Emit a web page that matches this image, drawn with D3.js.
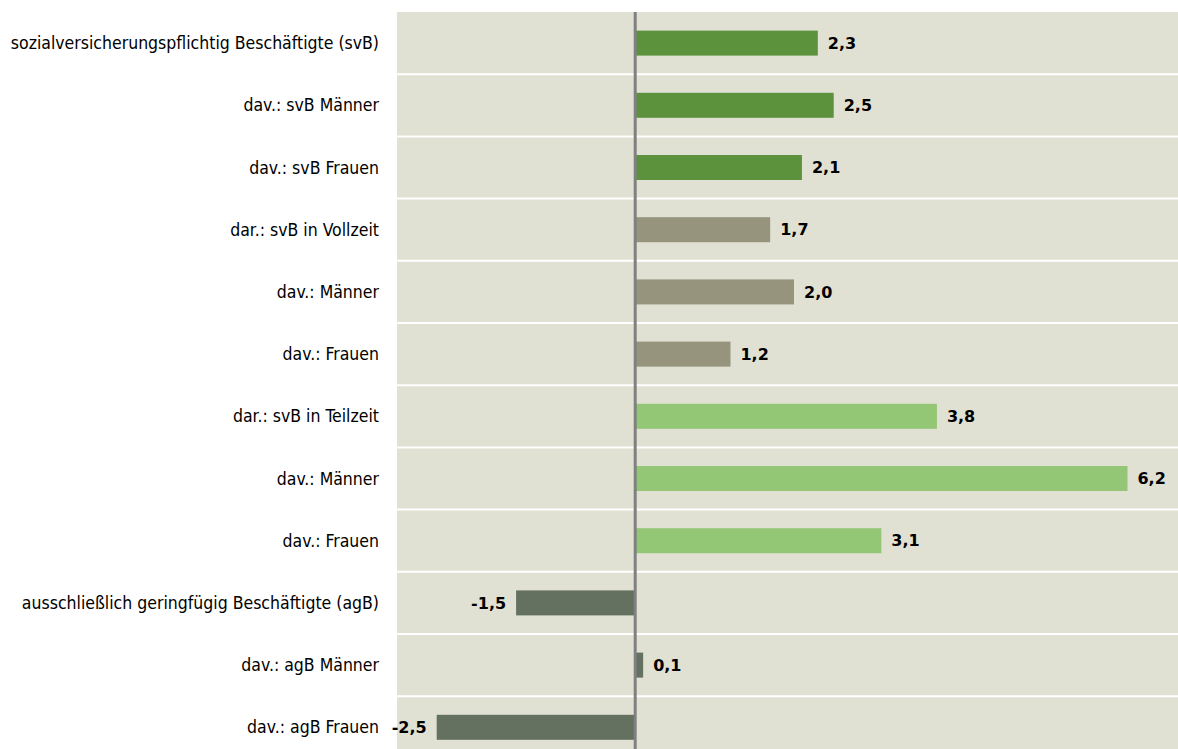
<!DOCTYPE html>
<html>
<head>
<meta charset="utf-8">
<style>
  body { margin: 0; background: #fff; }
  .cat { font-family: Tahoma, "DejaVu Sans Condensed", "Liberation Sans", sans-serif; font-size: 17.5px; fill: #000; }
  .val { font-family: "DejaVu Sans", Verdana, sans-serif; font-size: 16px; font-weight: bold; fill: #000; }
</style>
</head>
<body>
<svg width="1178" height="749"></svg>
<script src="https://cdnjs.cloudflare.com/ajax/libs/d3/7.8.5/d3.min.js"></script>
<script>

// categories, top to bottom
var categories = [
  "sozialversicherungspflichtig Beschäftigte (svB)",
  "dav.: svB Männer",
  "dav.: svB Frauen",
  "dar.: svB in Vollzeit",
  "dav.: Männer",
  "dav.: Frauen",
  "dar.: svB in Teilzeit",
  "dav.: Männer",
  "dav.: Frauen",
  "ausschließlich geringfügig Beschäftigte (agB)",
  "dav.: agB Männer",
  "dav.: agB Frauen"
];

// change in percent
var values = [2.3, 2.5, 2.1, 1.7, 2.0, 1.2, 3.8, 6.2, 3.1, -1.5, 0.1, -2.5];

// group of each bar (drives colour)
var groups = ["svB", "svB", "svB", "vz", "vz", "vz", "tz", "tz", "tz", "agB", "agB", "agB"];

var data = categories.map(function(c, i) {
  return { key: i, cat: c, value: values[i], group: groups[i] };
});

var svg = d3.select("svg"),
    plotLeft = 397, plotRight = 1178,
    plotTop = 12, rowH = 62.2,
    plotBottom = plotTop + rowH * categories.length;

var x = d3.scaleLinear()
    .domain([-3, 7])
    .range([plotLeft, plotLeft + 10 * 79.4]);

var y = d3.scaleBand()
    .domain(data.map(function(d) { return d.key; }))
    .range([plotTop, plotBottom])
    .padding(0);

var color = d3.scaleOrdinal()
    .domain(["svB", "vz", "tz", "agB"])
    .range(["#5c923c", "#96947c", "#93c675", "#647060"]);

var fmt = function(v) { return d3.format(".1f")(v).replace("\u2212", "-").replace(".", ","); };

svg.append("defs").append("clipPath").attr("id", "plot")
  .append("rect")
    .attr("x", plotLeft).attr("y", plotTop)
    .attr("width", plotRight - plotLeft).attr("height", plotBottom - plotTop);

var plot = svg.append("g").attr("clip-path", "url(#plot)");

// background
plot.append("rect")
    .attr("x", plotLeft).attr("y", plotTop)
    .attr("width", plotRight - plotLeft).attr("height", plotBottom - plotTop)
    .attr("fill", "#e0e1d3");

// row separators
plot.selectAll(".sep")
    .data(data.slice(1))
    .enter().append("line")
      .attr("class", "sep")
      .attr("x1", plotLeft).attr("x2", plotRight)
      .attr("y1", function(d) { return y(d.key); })
      .attr("y2", function(d) { return y(d.key); })
      .attr("stroke", "#fff")
      .attr("stroke-width", 2);

var barH = 25;

plot.selectAll(".bar")
    .data(data)
    .enter().append("rect")
      .attr("class", "bar")
      .attr("x", function(d) { return x(Math.min(0, d.value)); })
      .attr("y", function(d) { return y(d.key) + (y.bandwidth() - barH) / 2; })
      .attr("width", function(d) { return Math.abs(x(d.value) - x(0)); })
      .attr("height", barH)
      .attr("fill", function(d) { return color(d.group); });

// zero line
plot.append("line")
    .attr("x1", x(0)).attr("x2", x(0))
    .attr("y1", plotTop).attr("y2", plotBottom)
    .attr("stroke", "#808080")
    .attr("stroke-width", 3);

// value labels
svg.selectAll(".val")
    .data(data)
    .enter().append("text")
      .attr("class", "val")
      .attr("x", function(d) { return d.value < 0 ? x(d.value) - 10 : x(d.value) + 10; })
      .attr("y", function(d) { return y(d.key) + y.bandwidth() / 2; })
      .attr("dy", "0.35em")
      .attr("text-anchor", function(d) { return d.value < 0 ? "end" : "start"; })
      .text(function(d) { return fmt(d.value); });

// category labels
svg.selectAll(".cat")
    .data(data)
    .enter().append("text")
      .attr("class", "cat")
      .attr("x", 379)
      .attr("y", function(d) { return y(d.key) + y.bandwidth() / 2; })
      .attr("dy", "0.35em")
      .attr("text-anchor", "end")
      .text(function(d) { return d.cat; });

</script>
</body>
</html>
